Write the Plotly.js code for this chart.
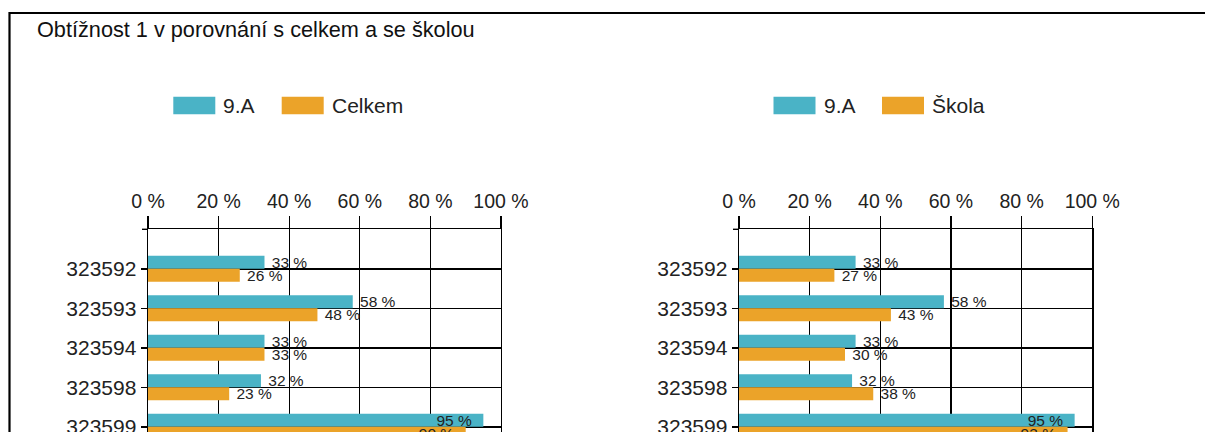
<!DOCTYPE html>
<html>
<head>
<meta charset="utf-8">
<script src="https://cdn.plot.ly/plotly-3.0.1.min.js"></script>
<style>
  html, body { margin: 0; padding: 0; background: #fff; overflow: hidden; }
  #chart { width: 1205px; height: 432px; }
</style>
</head>
<body>
<div id="chart"></div>
<script>
// ---- data ----
const categories = ['323592', '323593', '323594', '323598', '323599'];
const classValues = [33, 58, 33, 32, 95];     // 9.A
const totalValues = [26, 48, 33, 23, 90];     // Celkem
const schoolValues = [27, 43, 30, 38, 93];    // Škola
const xTickValues = [0, 20, 40, 60, 80, 100];
const xTickLabels = ['0 %', '20 %', '40 %', '60 %', '80 %', '100 %'];
const chartTitle = 'Obtížnost 1 v porovnání s celkem a se školou';
const seriesNames = { cls: '9.A', total: 'Celkem', school: 'Škola' };

// ---- style ----
const W = 1205, H = 432;
const TEAL = '#4ab3c6';
const ORANGE = '#eba329';
const TXT = '#222222';
const FONT = 'Liberation Sans, Arial, sans-serif';
const px = v => v / W;
const py = v => 1 - v / H;

function isInside(v) { return v > 85; }

function barTrace(name, vals, color, xa, ya) {
  return {
    type: 'bar', orientation: 'h', name: name,
    x: vals, y: categories, xaxis: xa, yaxis: ya,
    marker: { color: color, line: { width: 0 } },
    text: vals.map(v => isInside(v) ? v + ' %\u00a0\u00a0' : '\u00a0' + v + ' %'),
    textposition: vals.map(v => isInside(v) ? 'inside' : 'outside'),
    constraintext: 'none',
    textfont: { family: FONT, size: 15.5, color: TXT },
    insidetextfont: { family: FONT, size: 15.5, color: TXT },
    outsidetextfont: { family: FONT, size: 15.5, color: TXT },
    hoverinfo: 'skip', showlegend: false
  };
}

const data = [
  barTrace(seriesNames.cls, classValues, TEAL, 'x', 'y'),
  barTrace(seriesNames.total, totalValues, ORANGE, 'x', 'y'),
  barTrace(seriesNames.cls, classValues, TEAL, 'x2', 'y2'),
  barTrace(seriesNames.school, schoolValues, ORANGE, 'x2', 'y2')
];

const yDomTop = py(229.3);
function xAxis(domain, anchor) {
  return {
    domain: domain, anchor: anchor, side: 'top', range: [0, 100],
    tickmode: 'array', tickvals: xTickValues, ticktext: xTickLabels,
    ticks: 'outside', ticklen: 12, tickwidth: 1.4, tickcolor: '#000',
    showgrid: true, gridcolor: '#000', gridwidth: 1.4,
    showline: true, linecolor: '#000', linewidth: 1.4,
    zeroline: false, fixedrange: true,
    tickfont: { family: FONT, size: 19.5, color: TXT }
  };
}
function yAxis(anchor) {
  return {
    domain: [0, yDomTop], anchor: anchor, type: 'category',
    categoryorder: 'array', categoryarray: categories,
    range: [4.13, -1],
    ticks: 'outside', ticklen: 6, tickwidth: 1.4, tickcolor: '#000',
    showgrid: true, gridcolor: '#000', gridwidth: 1.4,
    showline: true, linecolor: '#000', linewidth: 1.4, mirror: true,
    zeroline: false, fixedrange: true,
    tickfont: { family: FONT, size: 21, color: TXT }
  };
}

const shapes = [
  // frame (extends past right and bottom edges)
  { type: 'rect', xref: 'paper', yref: 'paper', x0: px(9.5), x1: 1.1, y0: py(13), y1: -0.1, fillcolor: 'rgba(0,0,0,0)', line: { color: '#000', width: 2.2 }, layer: 'below' },
  // top-left small ticks
  { type: 'line', xref: 'x domain', yref: 'y domain', x0: -6 / 353, x1: 0, y0: 1, y1: 1, line: { color: '#000', width: 1.4 } },
  { type: 'line', xref: 'x2 domain', yref: 'y2 domain', x0: -6 / 353, x1: 0, y0: 1, y1: 1, line: { color: '#000', width: 1.4 } }
];
const annotations = [];
function legendItem(x0, text, color) {
  shapes.push({ type: 'rect', xref: 'paper', yref: 'paper', x0: px(x0), x1: px(x0 + 42), y0: py(114.3), y1: py(96.7), fillcolor: color, line: { width: 0 } });
  annotations.push({ xref: 'paper', yref: 'paper', x: px(x0 + 48), y: py(105.5), xanchor: 'left', yanchor: 'middle', showarrow: false, text: text, font: { family: FONT, size: 21, color: TXT } });
}
legendItem(173.3, seriesNames.cls, TEAL);
legendItem(281.7, seriesNames.total, ORANGE);
legendItem(773.5, seriesNames.cls, TEAL);
legendItem(882, seriesNames.school, ORANGE);

const layout = {
  width: W, height: H,
  margin: { l: 0, r: 0, t: 0, b: 0 },
  paper_bgcolor: '#fff', plot_bgcolor: '#fff',
  barmode: 'group', bargap: 0.342, bargroupgap: 0,
  showlegend: false,
  title: { text: chartTitle, x: px(37), xanchor: 'left', y: py(29.5), yanchor: 'middle', font: { family: FONT, size: 21.7, color: '#111' } },
  xaxis: xAxis([px(148), px(501)], 'y'),
  yaxis: yAxis('x'),
  xaxis2: xAxis([px(739), px(1092.3)], 'y2'),
  yaxis2: yAxis('x2'),
  shapes: shapes,
  annotations: annotations
};

Plotly.newPlot('chart', data, layout, { displayModeBar: false, staticPlot: true });
</script>
</body>
</html>
